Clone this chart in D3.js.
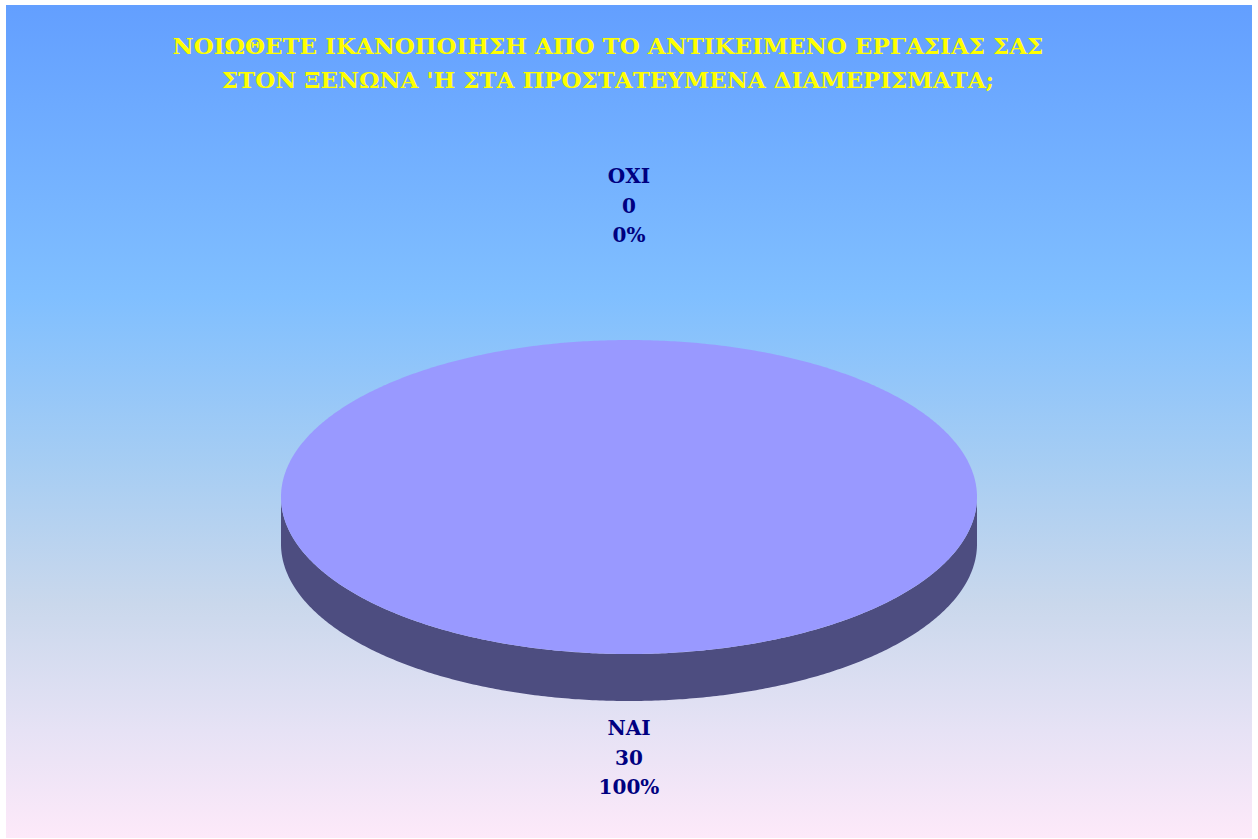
<!DOCTYPE html>
<html>
<head>
<meta charset="utf-8">
<script src="https://cdn.jsdelivr.net/npm/d3@7"></script>
<style>
  html, body { margin: 0; padding: 0; background: #ffffff; }
  svg { display: block; }
</style>
</head>
<body>
<svg id="chart" width="1258" height="839"></svg>
<script>
// Survey answers
const categories = ["ΟΧΙ", "ΝΑΙ"];
const counts = [0, 30];
const titleLines = [
  "ΝΟΙΩΘΕΤΕ ΙΚΑΝΟΠΟΙΗΣΗ ΑΠΟ ΤΟ ΑΝΤΙΚΕΙΜΕΝΟ ΕΡΓΑΣΙΑΣ ΣΑΣ",
  "ΣΤΟΝ ΞΕΝΩΝΑ 'Η ΣΤΑ ΠΡΟΣΤΑΤΕΥΜΕΝΑ ΔΙΑΜΕΡΙΣΜΑΤΑ;"
];

const svg = d3.select("#chart");
const frame = { x: 6, y: 5, w: 1246, h: 833 };

// Background gradient
const defs = svg.append("defs");
const bg = defs.append("linearGradient").attr("id", "bg")
  .attr("x1", 0).attr("y1", 0).attr("x2", 0).attr("y2", 1);
[
  [0, "#639fff"],
  [0.35, "#80bfff"],
  [0.55, "#a6cdf3"],
  [0.72, "#cad8ec"],
  [0.87, "#e6e2f5"],
  [1, "#fde9f9"]
].forEach(([o, c]) => bg.append("stop").attr("offset", o).attr("stop-color", c));

svg.append("rect")
  .attr("x", frame.x).attr("y", frame.y)
  .attr("width", frame.w).attr("height", frame.h)
  .attr("fill", "url(#bg)");

// Title
const title = svg.append("text")
  .attr("text-anchor", "middle")
  .attr("font-family", "'DejaVu Serif', serif")
  .attr("font-weight", "bold")
  .attr("font-size", 23)
  .attr("fill", "#ffff00");
titleLines.forEach((t, i) => {
  title.append("tspan")
    .attr("x", 608)
    .attr("y", 54 + i * 34)
    .text(t);
});

// 3D pie geometry
const cx = 629, cy = 497, rx = 348, ry = 157, depth = 47;
const topColor = "#9999ff", sideColor = "#4d4d80";

const pie = d3.pie().sort(null).value(d => d)(counts);

// angle measured clockwise from 12 o'clock
const px = a => cx + rx * Math.sin(a);
const py = a => cy - ry * Math.cos(a);

function topPath(s, e) {
  if (e - s <= 0) return null;
  const p = d3.path();
  const n = Math.max(2, Math.ceil((e - s) / 0.01));
  const full = (e - s) >= 2 * Math.PI - 1e-9;
  if (!full) p.moveTo(cx, cy);
  for (let i = 0; i <= n; i++) {
    const a = s + (e - s) * i / n;
    if (i === 0 && full) p.moveTo(px(a), py(a)); else p.lineTo(px(a), py(a));
  }
  p.closePath();
  return p.toString();
}

// side wall for the visible (front) part of an angular range
function sidePath(s, e) {
  const lo = Math.max(s, Math.PI / 2), hi = Math.min(e, 3 * Math.PI / 2);
  if (hi <= lo) return null;
  const n = Math.max(2, Math.ceil((hi - lo) / 0.01));
  const p = d3.path();
  for (let i = 0; i <= n; i++) {
    const a = lo + (hi - lo) * i / n;
    if (i === 0) p.moveTo(px(a), py(a)); else p.lineTo(px(a), py(a));
  }
  for (let i = n; i >= 0; i--) {
    const a = lo + (hi - lo) * i / n;
    p.lineTo(px(a), py(a) + depth);
  }
  p.closePath();
  return p.toString();
}

const g = svg.append("g");
pie.forEach(d => {
  const sp = sidePath(d.startAngle, d.endAngle);
  if (sp) g.append("path").attr("d", sp).attr("fill", sideColor);
});
pie.forEach(d => {
  const tp = topPath(d.startAngle, d.endAngle);
  if (tp) g.append("path").attr("d", tp).attr("fill", topColor);
});

// Data labels: category, value, percentage
const total = d3.sum(counts);
const fmtPct = v => Math.round(v / total * 100) + "%";
const lineGap = 29.5;
pie.forEach((d, i) => {
  const mid = (d.startAngle + d.endAngle) / 2;
  const c = Math.cos(mid);
  const x = px(mid);
  let y0;
  if (c > 0) {
    // above the pie: last line ends clear of the top rim
    y0 = py(mid) - 98 - 2 * lineGap;
  } else {
    // below the pie: first line starts below the side wall
    y0 = py(mid) + depth + 34;
  }
  const t = svg.append("text")
    .attr("text-anchor", "middle")
    .attr("font-family", "'DejaVu Serif', serif")
    .attr("font-weight", "bold")
    .attr("font-size", 20)
    .attr("fill", "#000080");
  [categories[i], String(counts[i]), fmtPct(counts[i])].forEach((s, k) => {
    t.append("tspan").attr("x", x).attr("y", y0 + k * lineGap).text(s);
  });
});
</script>
</body>
</html>
